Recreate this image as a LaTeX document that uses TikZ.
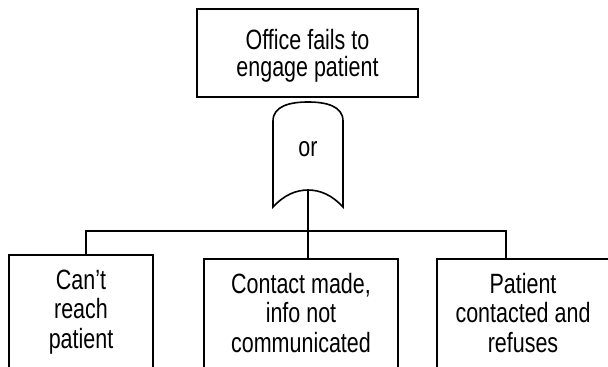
\documentclass[tikz,border=0pt]{standalone}
\usepackage{fontspec}
\setmainfont{Liberation Sans}[FakeStretch=0.77]

\begin{document}
\begin{tikzpicture}[x=1bp, y=-1bp, line width=1.6bp,
		event/.style={draw, align=center, inner xsep=0pt, font=\fontsize{28}{30}\selectfont},
		basic/.style={event, anchor=north, inner ysep=14bp, text height=80bp, text depth=110bp}]
		\useasboundingbox (0,0) rectangle (608,366);
		\clip (0,0) rectangle (608,366);
		
		% Top event
		\node[event, font=\fontsize{28}{27}\selectfont, text depth=0bp,
			minimum width=221bp, minimum height=88bp] (fails) at (307.5,53) {Office fails to\\engage patient};
		
		% OR gate
		\draw (273,207) -- (273,121) .. controls (273,106) and (290,102) .. (308,102)
			.. controls (326,102) and (343,106) .. (343,121) -- (343,207)
			.. controls (332,195) and (320,190) .. (308,190)
			.. controls (296,190) and (284,195) .. (273,207) -- cycle;
		\node[font=\fontsize{28}{30}\selectfont] (gate) at (308,149) {or};
		\coordinate (gateout) at (308,190);
		
		% Basic events
		\node[basic, minimum width=144bp] (reach) at (81,254) {Can't\\reach\\patient};
		\node[basic, minimum width=194bp] (info) at (301,258) {Contact made,\\info not\\communicated};
		\node[basic, minimum width=172bp] (refuse) at (523,258) {Patient\\contacted and\\refuses};
		
		% Branches
		\coordinate (bus) at (308,231);
		\coordinate (busL) at (86,231);
		\coordinate (busR) at (506,231);
		\draw (gateout) -- (bus);
		\draw (busL |- reach.north) -- (busL) -- (busR) -- (busR |- refuse.north);
		\draw (bus) -- (bus |- info.north);
	\end{tikzpicture}
\end{document}
